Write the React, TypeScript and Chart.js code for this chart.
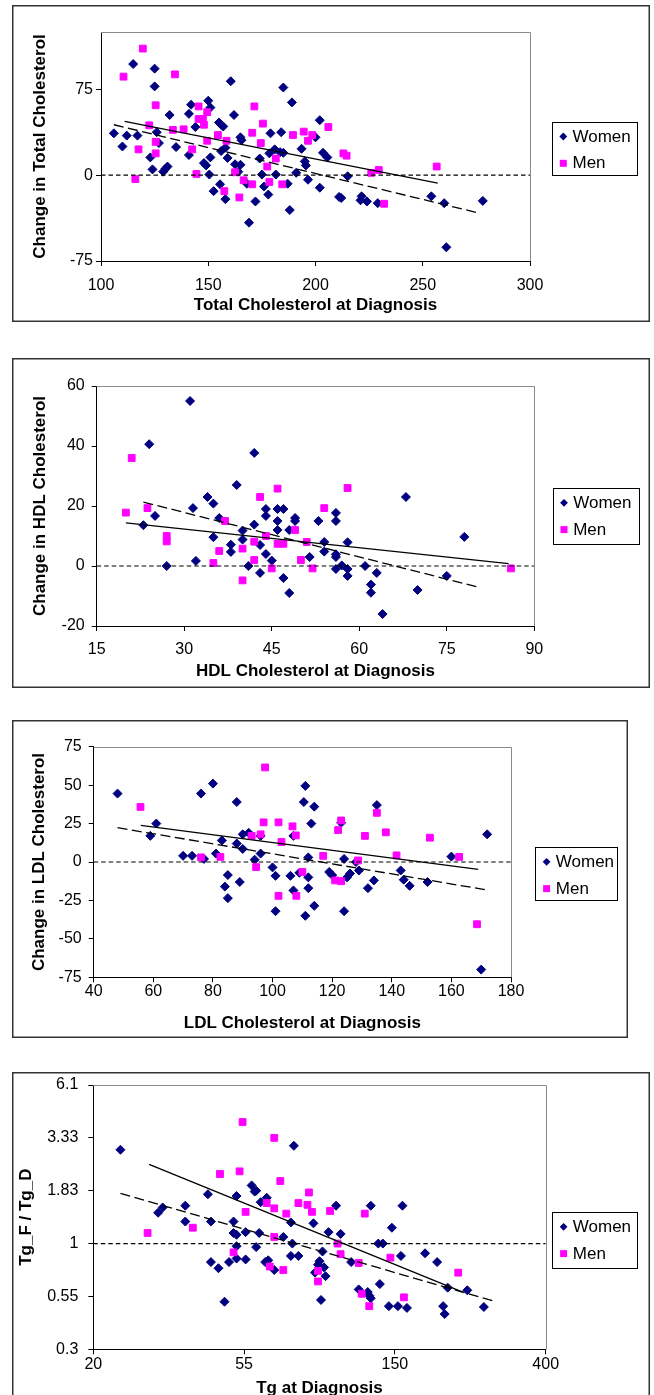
import React, { useEffect, useRef } from "react";
import { Chart, registerables } from "chart.js";

Chart.register(...registerables);

const FONT = "'Liberation Sans', Arial, Helvetica, sans-serif";
const WOMEN_COLOR = "#000080";
const MEN_COLOR = "#FF00FF";

type Pt = [number, number];

// ---------- Panel 1: Total cholesterol ----------
const tcXTicks = [100, 150, 200, 250, 300];
const tcYTicks = [-75, 0, 75];
const tcWomen: Pt[] = [
  [106, 36.5], [110, 25], [112, 34.5], [115, 97], [117, 34.5], [123, 15.5], [124, 5], [125, 93], [125, 77.5],
  [126, 37.5], [127, 28], [129, 3], [130, 5.5], [131, 7.5], [132, 52.5], [135, 24.5], [141, 53.5], [141, 17.5],
  [142, 61.5], [144, 42], [150, 65], [151, 59], [151, 15.5], [150.5, 0.5], [148, 10.5], [149, 8.5], [155, 46],
  [156, 44], [157, 42.5], [152.5, -14], [155.5, -8], [158, -21], [156, 21], [158, 24], [159, 15], [160.5, 82],
  [162, 52.5], [162.5, 9.5], [165, 9], [164, 3], [165, 33], [165.5, 30.5], [168, -7.5], [169, -41.5], [172, -23],
  [174, 14.5], [175, 0.5], [176, -10], [178, -17], [178.5, 19], [179, 36.5], [181, 22.5], [181.5, 0.5], [183.5, 20],
  [184, 37.5], [185, 76.5], [185, 19.5], [187, -7.5], [188, -30.5], [189, 63.5], [191, 2], [193.5, 23], [195, 12],
  [195.5, 8.5], [196.5, -4], [200, 33], [202, 48], [202, -11], [203.5, 19.5], [205.5, 15.5], [215, -1], [211, -19],
  [212, -20], [221.5, -18.5], [221, -22], [224, -23], [229, -24.5], [254, -18.5], [260, -24.5], [261, -63], [278, -22.5],
];
const tcMen: Pt[] = [
  [110.5, 86], [116, -3.5], [117.5, 22.5], [119.5, 110.5], [122.5, 43.5], [125.5, 61], [125.5, 29], [125.5, 19],
  [133.5, 39.5], [134.5, 88], [138.5, 40], [142.5, 22.5], [144.5, 1], [145.5, 60], [145.5, 49], [147.5, 49], [148, 44],
  [149.5, 55], [149.5, 30], [154.5, 35], [158.5, 30], [157.5, -14], [162.5, 2.5], [164.5, -19.5], [166.5, -4.5],
  [170.5, -8], [170.5, 37], [171.5, 60], [174.5, 28], [175.5, 45], [177.5, 7.5], [178.5, -6], [181.5, 14.5],
  [184.5, -8], [189.5, 35], [194.5, 38], [196.5, 30], [198.5, 35], [206, 42], [213, 19], [214.5, 17], [226, 2],
  [229.5, 4.5], [232, -25], [256.5, 7.5],
];
const tcSolid: Pt[] = [[111, 47], [257, -7]];
const tcDashed: Pt[] = [[106, 44], [276, -33]];

// ---------- Panel 2: HDL cholesterol ----------
const hdlXTicks = [15, 30, 45, 60, 75, 90];
const hdlYTicks = [-20, 0, 20, 40, 60];
const hdlWomen: Pt[] = [
  [23, 13.6], [24, 40.6], [25, 16.7], [27, 0], [31, 55], [31.5, 19.3], [32, 1.7], [34, 23], [35, 20.8], [35, 9.6],
  [36, 16], [38, 7.1], [38, 4.7], [39, 27], [40, 11.8], [40, 8.8], [41, 0], [42, 37.7], [42, 13.8], [43, 7],
  [43, -2.3], [44, 19], [44, 16.7], [44, 4], [45, 1.8], [46, 19], [46, 15], [46, 12], [47, 19], [47, -4], [48, 12],
  [48, -9], [49, 16], [49, 15], [51.5, 3], [53, 15], [54, 8], [54, 4.8], [56, 17.7], [56, 15], [56, 3.9], [56, 3],
  [56, -1], [57, 0.2], [58, 7.9], [58, -1], [58, -3.3], [61, 0], [62, -6.2], [62, -8.9], [63, -2.3], [64, -16],
  [68, 23], [70, -8], [75, -3.3], [78, 9.7],
];
const hdlMen: Pt[] = [
  [20, 17.8], [21, 36], [23.7, 19.3], [27, 10], [27, 8.2], [35, 1], [36, 5], [37, 15], [40, 5.8], [40, -4.8],
  [42, 8.1], [42, 2], [43, 23], [44, 10], [45, -0.8], [46, 25.8], [46, 7.4], [47, 7.4], [49, 12], [50, 2], [51, 8],
  [52, -0.8], [54, 19.3], [58, 26], [86, -0.8],
];
const hdlSolid: Pt[] = [[20, 14.4], [85.6, 0.8]];
const hdlDashed: Pt[] = [[23, 21.3], [80.7, -7.2]];

// ---------- Panel 3: LDL cholesterol ----------
const ldlXTicks = [40, 60, 80, 100, 120, 140, 160, 180];
const ldlYTicks = [-75, -50, -25, 0, 25, 50, 75];
const ldlWomen: Pt[] = [
  [48, 44.5], [59, 17], [61, 25], [70, 4], [73, 4], [76, 44.5], [77, 2], [80, 51], [81, 5.5], [83, 14], [84, -16],
  [85, -8.5], [85, -23.5], [88, 39], [88, 12], [89, -13], [90, 8.5], [90, 18], [92, 19], [94, 1.5], [96, 5.5],
  [96, 17], [100, -3.5], [101, -9], [101, -32], [106, -9], [107, 17], [107, -18.5], [109, -7], [110.5, 39],
  [111, 49.5], [111, -35], [112, 3], [112, -10], [112, -17], [113, 25], [114, 36], [114, -28.5], [119, -6.5],
  [120, -8.5], [123, 25.5], [124, 2], [124, -32], [125, -10], [126, -7.5], [128, 0], [129, -5.5], [132, -17],
  [134, -12], [135, 37], [143, -5.5], [144, -11.5], [146, -15.5], [152, -13], [160, 3.5], [170, -70], [172, 18],
];
const ldlMen: Pt[] = [
  [55.7, 35.8], [76, 3], [82.5, 3.3], [93, 17], [94.5, -3.3], [96, 18], [97, 25.8], [97.5, 61.5], [102, 25.8],
  [102, -22], [103, 13], [106.7, 23.2], [107.8, 17.3], [108, -22], [110, -6.5], [117, 4], [121, -12], [123, -12.5],
  [122, 20.8], [123, 27], [128.7, 1], [131, 17], [135, 32], [138, 19.3], [141.6, 4.3], [152.8, 15.8], [162.6, 3.3],
  [168.6, -40.5],
];
const ldlSolid: Pt[] = [[55.8, 23.8], [169, -4.8]];
const ldlDashed: Pt[] = [[48, 22.3], [172, -18.2]];

// ---------- Panel 4: Triglycerides (natural-log axes) ----------
const tgXTicks = [3, 4, 5, 6];
const tgXLabels = ["20", "55", "150", "400"];
const tgYTicks = [-1.2, -0.6, 0, 0.6, 1.2, 1.8];
const tgYLabels = ["0.3", "0.55", "1", "1.83", "3.33", "6.1"];
const tgWomen: Pt[] = [
  [3.18, 1.065], [3.43, 0.35], [3.46, 0.41], [3.61, 0.43], [3.61, 0.25], [3.76, 0.56], [3.78, 0.25], [3.78, -0.21],
  [3.83, -0.28], [3.87, -0.66], [3.9, -0.21], [3.93, 0.25], [3.93, 0.12], [3.95, 0.1], [3.95, -0.03], [3.95, 0.54],
  [3.95, -0.17], [4.01, -0.18], [4.01, 0.13], [4.05, 0.66], [4.07, 0.59], [4.08, 0.6], [4.08, -0.04], [4.1, 0.12],
  [4.11, 0.47], [4.15, 0.52], [4.14, -0.21], [4.16, -0.19], [4.2, -0.3], [4.26, 0.075], [4.31, 0.24], [4.32, 0],
  [4.31, -0.14], [4.33, 1.11], [4.36, -0.14], [4.46, 0.23], [4.47, -0.33], [4.49, -0.24], [4.5, -0.2], [4.52, -0.09],
  [4.51, -0.64], [4.54, -0.37], [4.53, -0.27], [4.56, 0.13], [4.61, 0.43], [4.64, 0.11], [4.71, -0.21], [4.76, -0.52],
  [4.82, -0.55], [4.83, -0.59], [4.84, -0.62], [4.84, 0.43], [4.89, 0], [4.92, 0], [4.9, -0.46], [4.98, 0.18],
  [4.96, -0.71], [5.02, -0.71], [5.04, -0.14], [5.05, 0.43], [5.08, -0.73], [5.2, -0.11], [5.28, -0.21], [5.32, -0.71],
  [5.33, -0.8], [5.35, -0.5], [5.48, -0.53], [5.59, -0.72],
];
const tgMen: Pt[] = [
  [3.36, 0.12], [3.66, 0.18], [3.84, 0.79], [3.93, -0.1], [3.97, 0.82], [3.99, 1.38], [4.01, 0.36], [4.15, 0.46],
  [4.17, -0.26], [4.2, 1.2], [4.2, 0.4], [4.2, 0.075], [4.24, 0.71], [4.26, -0.3], [4.28, 0.34], [4.36, 0.46],
  [4.43, 0.58], [4.42, 0.44], [4.45, 0.36], [4.49, -0.31], [4.49, -0.43], [4.57, 0.37], [4.8, 0.34], [4.62, 0],
  [4.64, -0.12], [4.76, -0.22], [4.97, -0.16], [4.78, -0.57], [4.83, -0.71], [5.06, -0.61], [5.42, -0.33],
];
const tgSolid: Pt[] = [[3.37, 0.9], [5.45, -0.55]];
const tgDashed: Pt[] = [[3.18, 0.57], [5.65, -0.65]];

// ---------- Layout / style configuration ----------
interface PanelCfg {
  left: number; top: number; width: number; height: number;
  padTop: number; padRight: number; yAxisW: number; xAxisH: number;
  yTitlePad: number; xTitlePad: number; xTickPad: number; yTickPad: number;
  xMin: number; xMax: number; yMin: number; yMax: number; refY: number;
  xTicks: number[]; yTicks: number[]; xLabels?: string[]; yLabels?: string[];
  xTitle: string; yTitle: string;
  legend: { x: number; y: number; w: number; h: number };
  women: Pt[]; men: Pt[]; solid: Pt[]; dashed: Pt[];
}

const panels: PanelCfg[] = [
  {
    left: 12, top: 5, width: 638, height: 317, padTop: 27, padRight: 120, yAxisW: 89, xAxisH: 61,
    yTitlePad: 17.8, xTitlePad: 6.8, xTickPad: 10, yTickPad: 3,
    xMin: 100, xMax: 300, yMin: -75, yMax: 125, refY: 0, xTicks: tcXTicks, yTicks: tcYTicks,
    xTitle: "Total Cholesterol at Diagnosis", yTitle: "Change in Total Cholesterol",
    legend: { x: 540, y: 117, w: 85, h: 53 },
    women: tcWomen, men: tcMen, solid: tcSolid, dashed: tcDashed,
  },
  {
    left: 12, top: 358, width: 638, height: 330, padTop: 28, padRight: 115.7, yAxisW: 84.7, xAxisH: 62,
    yTitlePad: 17.8, xTitlePad: 6.1, xTickPad: 9.4, yTickPad: 7,
    xMin: 15, xMax: 90, yMin: -20, yMax: 60, refY: 0, xTicks: hdlXTicks, yTicks: hdlYTicks,
    xTitle: "HDL Cholesterol at Diagnosis", yTitle: "Change in HDL Cholesterol",
    legend: { x: 540.7, y: 130.3, w: 85.6, h: 56 },
    women: hdlWomen, men: hdlMen, solid: hdlSolid, dashed: hdlDashed,
  },
  {
    left: 12, top: 720, width: 616, height: 318, padTop: 26.7, padRight: 117, yAxisW: 81.7, xAxisH: 60.7,
    yTitlePad: 17.1, xTitlePad: 4.5, xTickPad: 0, yTickPad: 7,
    xMin: 40, xMax: 180, yMin: -75, yMax: 75, refY: 0, xTicks: ldlXTicks, yTicks: ldlYTicks,
    xTitle: "LDL Cholesterol at Diagnosis", yTitle: "Change in LDL Cholesterol",
    legend: { x: 523.3, y: 127.3, w: 81.7, h: 53.4 },
    women: ldlWomen, men: ldlMen, solid: ldlSolid, dashed: ldlDashed,
  },
  {
    left: 12, top: 1072, width: 638, height: 335, padTop: 13, padRight: 104.3, yAxisW: 81.3, xAxisH: 57.7,
    yTitlePad: 4.3, xTitlePad: 8.8, xTickPad: 1, yTickPad: 10,
    xMin: 3, xMax: 6, yMin: -1.2, yMax: 1.8, refY: 0, xTicks: tgXTicks, yTicks: tgYTicks,
    xLabels: tgXLabels, yLabels: tgYLabels,
    xTitle: "Tg at Diagnosis", yTitle: "Tg_F / Tg_D",
    legend: { x: 540.3, y: 140.3, w: 85, h: 56 },
    women: tgWomen, men: tgMen, solid: tgSolid, dashed: tgDashed,
  },
];

function toXY(pts: Pt[]) {
  return pts.map(([x, y]) => ({ x, y }));
}

const framePlugin = {
  id: "frame",
  afterDraw(chart: any) {
    const o = chart.options.plugins.frame;
    if (!o) return;
    const ctx: CanvasRenderingContext2D = chart.ctx;
    const { left, top, right, bottom } = chart.chartArea;
    ctx.save();
    // plot-area top & right edges (grey)
    ctx.strokeStyle = "#8a8a8a";
    ctx.lineWidth = 1;
    ctx.setLineDash([]);
    ctx.beginPath();
    ctx.moveTo(left, Math.round(top) + 0.5);
    ctx.lineTo(Math.round(right) + 0.5, Math.round(top) + 0.5);
    ctx.lineTo(Math.round(right) + 0.5, bottom);
    ctx.stroke();
    // outer frame
    ctx.strokeStyle = "#333";
    ctx.lineWidth = 1.5;
    ctx.strokeRect(0.75, 0.75, chart.width - 1.5, chart.height - 1.5);
    // legend box
    const lg = o.legend;
    ctx.fillStyle = "#fff";
    ctx.fillRect(lg.x, lg.y, lg.w, lg.h);
    ctx.strokeStyle = "#000";
    ctx.lineWidth = 1;
    ctx.strokeRect(Math.round(lg.x) + 0.5, Math.round(lg.y) + 0.5, Math.round(lg.w), Math.round(lg.h));
    ctx.font = `17px ${FONT}`;
    ctx.textBaseline = "middle";
    ctx.textAlign = "left";
    const rows = chart.data.datasets.filter((d: any) => d.legendRow !== undefined)
      .sort((a: any, b: any) => a.legendRow - b.legendRow);
    rows.forEach((d: any, i: number) => {
      const cy = lg.y + 14.5 + i * 26.8;
      const cx = lg.x + 11.3;
      ctx.fillStyle = d.backgroundColor;
      ctx.beginPath();
      if (d.pointStyle === "rectRot") {
        const s = 3.9;
        ctx.moveTo(cx - s, cy); ctx.lineTo(cx, cy - s); ctx.lineTo(cx + s, cy); ctx.lineTo(cx, cy + s);
        ctx.closePath();
      } else {
        const s = 3.5;
        ctx.rect(cx - s, cy - s, 2 * s, 2 * s);
      }
      ctx.fill();
      ctx.fillStyle = "#000";
      ctx.fillText(d.label, lg.x + 20.5, cy + 0.5);
    });
    ctx.restore();
  },
};

function buildConfig(c: PanelCfg): any {
  const tickFont = { family: FONT, size: 16 };
  const titleFont = { family: FONT, size: 17, weight: "bold" as const };
  const gridOpts = { display: true, drawOnChartArea: false, drawTicks: true, tickLength: 5, color: "#000", lineWidth: 1 };
  return {
    type: "scatter",
    data: {
      datasets: [
        {
          label: "reference", data: toXY([[c.xMin, c.refY], [c.xMax, c.refY]]), showLine: true,
          borderColor: "#000", borderWidth: 1.2, borderDash: [4.5, 3], pointRadius: 0, tension: 0, fill: false,
        },
        {
          label: "trend-solid", data: toXY(c.solid), showLine: true,
          borderColor: "#000", borderWidth: 1.3, pointRadius: 0, tension: 0, fill: false,
        },
        {
          label: "trend-dashed", data: toXY(c.dashed), showLine: true,
          borderColor: "#000", borderWidth: 1.3, borderDash: [10, 4.5], pointRadius: 0, tension: 0, fill: false,
        },
        {
          label: "Men", data: toXY(c.men), pointStyle: "rect", pointRadius: 4.8,
          backgroundColor: MEN_COLOR, borderColor: MEN_COLOR, borderWidth: 1, legendRow: 1,
        },
        {
          label: "Women", data: toXY(c.women), pointStyle: "rectRot", pointRadius: 4.5,
          backgroundColor: WOMEN_COLOR, borderColor: WOMEN_COLOR, borderWidth: 1, legendRow: 0,
        },
      ],
    },
    options: {
      animation: false,
      responsive: false,
      maintainAspectRatio: false,
      events: [],
      layout: { padding: { left: 0, top: c.padTop, right: c.padRight, bottom: 0 } },
      plugins: {
        legend: { display: false },
        tooltip: { enabled: false },
        frame: { legend: c.legend },
      },
      scales: {
        x: {
          type: "linear",
          position: "bottom",
          min: c.xMin,
          max: c.xMax,
          afterBuildTicks: (s: any) => { s.ticks = c.xTicks.map((v) => ({ value: v })); },
          afterFit: (s: any) => { s.height = c.xAxisH; s.paddingLeft = 0; s.paddingRight = 0; },
          ticks: {
            font: tickFont, color: "#000", padding: c.xTickPad, maxRotation: 0, autoSkip: false,
            callback: (v: any, i: number) => (c.xLabels ? c.xLabels[i] : String(v)),
          },
          grid: gridOpts,
          border: { display: true, color: "#000", width: 1 },
          title: { display: true, text: c.xTitle, font: titleFont, color: "#000", padding: { top: 0, bottom: c.xTitlePad } },
        },
        y: {
          type: "linear",
          position: "left",
          min: c.yMin,
          max: c.yMax,
          afterBuildTicks: (s: any) => { s.ticks = c.yTicks.map((v) => ({ value: v })); },
          afterFit: (s: any) => { s.width = c.yAxisW; s.paddingTop = 0; s.paddingBottom = 0; },
          ticks: {
            font: tickFont, color: "#000", padding: c.yTickPad, autoSkip: false,
            callback: (v: any, i: number) => (c.yLabels ? c.yLabels[i] : String(v)),
          },
          grid: gridOpts,
          border: { display: true, color: "#000", width: 1 },
          title: { display: true, text: c.yTitle, font: titleFont, color: "#000", padding: { top: c.yTitlePad, bottom: 0 } },
        },
      },
    },
    plugins: [framePlugin],
  };
}

function Panel({ cfg }: { cfg: PanelCfg }) {
  const ref = useRef<HTMLCanvasElement>(null);
  useEffect(() => {
    if (!ref.current) return;
    const chart = new Chart(ref.current, buildConfig(cfg));
    return () => chart.destroy();
  }, [cfg]);
  return (
    <canvas
      ref={ref}
      width={cfg.width}
      height={cfg.height}
      style={{ position: "absolute", left: cfg.left, top: cfg.top, width: cfg.width, height: cfg.height }}
    />
  );
}

export default function App() {
  return (
    <div
      style={{
        position: "absolute", left: 0, top: 0, width: 654, height: 1395,
        overflow: "hidden", background: "#fff",
      }}
    >
      {panels.map((p, i) => (
        <Panel key={i} cfg={p} />
      ))}
    </div>
  );
}
